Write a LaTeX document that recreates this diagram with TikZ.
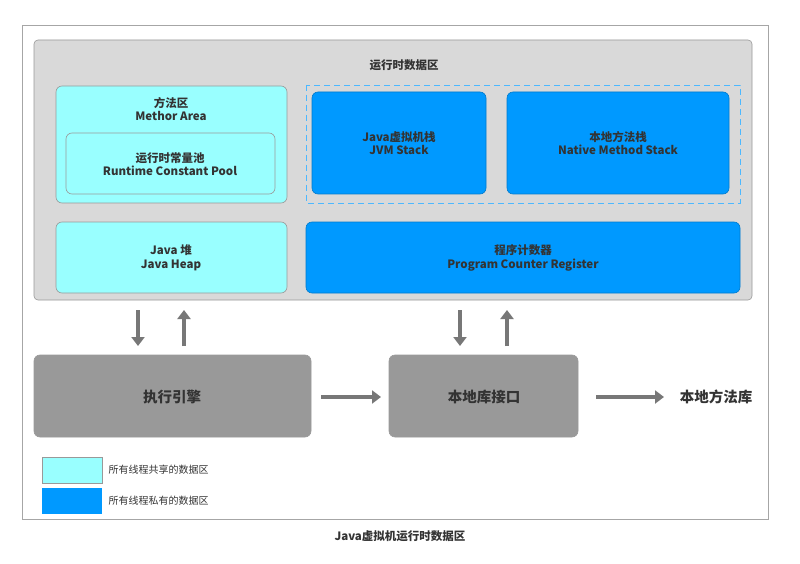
\documentclass[tikz,border=0pt]{standalone}
\usepackage{fontspec}
\setmainfont{Noto Sans CJK SC}
\usetikzlibrary{arrows.meta}
\definecolor{cy}{HTML}{99FFFF}
\definecolor{bl}{HTML}{0099FF}
\definecolor{gr}{HTML}{999999}
\definecolor{bg}{HTML}{D9D9D9}
\definecolor{tx}{HTML}{333333}
\definecolor{ar}{HTML}{777777}
\begin{document}
\begin{tikzpicture}[x=1pt,y=-1pt,
 box/.style={rounded corners=6pt,draw=gray!80,line width=0.6pt},
 lbl/.style={font=\bfseries\fontsize{11.5}{13.5}\selectfont,text=tx,align=center},
 big/.style={font=\bfseries\fontsize{14.5}{17}\selectfont,text=tx},
 arr/.style={draw=ar,line width=3.5pt,-{Triangle[length=9pt,width=13pt]}}]
\useasboundingbox (0,0) rectangle (800,564);
\fill[white] (0,0) rectangle (800,564);
\draw[gray!70] (22,25) rectangle (768,519);
\draw[box,fill=bg,rounded corners=4pt] (34,40) rectangle (752,300);
\node[lbl] (t) at (404,65) {运行时数据区};
\draw[box,fill=cy] (56,86) rectangle (287,203);
\node[lbl] (ma) at (171,109) {方法区\\Methor Area};
\draw[box,fill=cy] (66,133) rectangle (275,194);
\node[lbl] (rc) at (170,164) {运行时常量池\\Runtime Constant Pool};
\draw[dashed,draw=bl!70,line width=0.6pt,dash pattern=on 6pt off 4pt] (306,85) rectangle (740,203);
\draw[box,fill=bl,draw=bl!80!black] (312,92) rectangle (486,194);
\node[lbl] (jvm) at (399,143) {Java虚拟机栈\\JVM Stack};
\draw[box,fill=bl,draw=bl!80!black] (507,92) rectangle (729,194);
\node[lbl] (nat) at (618,143) {本地方法栈\\Native Method Stack};
\draw[box,fill=cy] (56,222) rectangle (287,293);
\node[lbl] (heap) at (171,258) {Java 堆\\Java Heap};
\draw[box,fill=bl,draw=bl!80!black] (306,222) rectangle (740,293);
\node[lbl] (pc) at (523,258) {程序计数器\\Program Counter Register};
\draw[arr] (138,310) -- (138,346);
\draw[arr] (184,346) -- (184,310);
\draw[arr] (460,310) -- (460,346);
\draw[arr] (507,346) -- (507,310);
\draw[box,fill=gr,draw=gr] (34,355) rectangle (311,437);
\node[big] (ee) at (172,397) {执行引擎};
\draw[box,fill=gr,draw=gr] (389,355) rectangle (578,437);
\node[big] (ni) at (484,397) {本地库接口};
\node[big] (nl) at (716,397) {本地方法库};
\draw[arr] (321,397) -- (381,397);
\draw[arr] (596,397) -- (664,397);
\draw[fill=cy,draw=gray!80] (42,457) rectangle (102,483);
\fill[bl] (42,488) rectangle (102,514);
\node[anchor=west,font=\fontsize{10}{12}\selectfont,text=tx] (l1) at (105,470) {所有线程共享的数据区};
\node[anchor=west,font=\fontsize{10}{12}\selectfont,text=tx] (l2) at (105,501) {所有线程私有的数据区};
\node[lbl] (cap) at (400,536) {Java虚拟机运行时数据区};
\end{tikzpicture}
\end{document}
